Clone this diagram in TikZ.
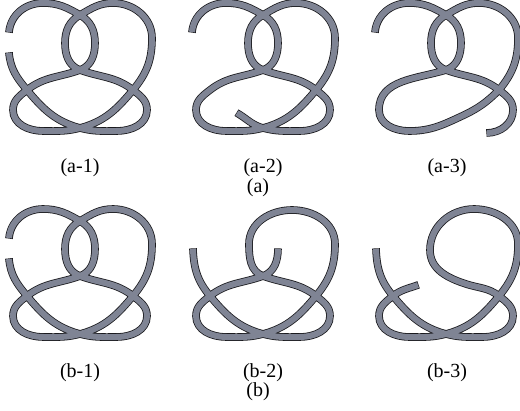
\documentclass[tikz,border=0pt]{standalone}
\usepackage{fontspec}
\setmainfont{Liberation Serif}

\tikzset{
    tube/.style={draw=tubeColour, line width=6pt, preaction={draw=borderColour, line width=7.6pt, shorten >=-0.6pt, shorten <=-0.6pt}},
    caption/.style={font=\fontsize{20}{20}\selectfont, inner sep=0pt}
}

\newcommand{\knotPoints}{
    \coordinate (endTop) at (9,32);
    \coordinate (endLow) at (9,53);
    \coordinate (apexL) at (43,3);
    \coordinate (apexR) at (113,3);
    \coordinate (T) at (80,15);
    \coordinate (lensR) at (95,43);
    \coordinate (lensL) at (65,43);
    \coordinate (B) at (80,70);
    \coordinate (P) at (27,90);
    \coordinate (Q) at (133,90);
    \coordinate (sideR) at (152,38);
    \coordinate (lowL) at (13,110);
    \coordinate (lowR) at (147,110);
    \coordinate (baseL) at (43,131);
    \coordinate (baseR) at (117,131);
    \coordinate (C) at (80,128);
}

\begin{document}
\begin{tikzpicture}[x=1pt, y=-1pt]
    \definecolor{borderColour}{HTML}{1A1A1E}
    \definecolor{tubeColour}{HTML}{7F8494}

    \useasboundingbox (0,0) rectangle (520,411);

    % (a-1) and (b-1)
    \foreach \rowShift in {0,206} {
        \begin{scope}[yshift=-\rowShift pt]
            \knotPoints
            \draw[tube] (endTop) to[out=85,in=180] (apexL) to[out=0,in=150] (T) to[out=-30,in=90] (lensR)
                to[out=-90,in=20] (B) to[out=200,in=38] (P) to[out=218,in=90] (lowL)
                to[out=-90,in=180] (baseL) to[out=0,in=195] (C) to[out=15,in=230] (Q)
                to[out=50,in=-90] (sideR) to[out=90,in=0] (apexR) to[out=180,in=30] (T)
                to[out=210,in=90] (lensL) to[out=-90,in=160] (B) to[out=-20,in=142] (Q)
                to[out=-38,in=90] (lowR) to[out=-90,in=0] (baseR) to[out=180,in=-15] (C)
                to[out=165,in=-50] (P) to[out=130,in=-85] (endLow);
        \end{scope}
    }

    % (a-2)
    \begin{scope}[xshift=183pt]
        \knotPoints
        \coordinate (endIn) at (54,113);
        \draw[tube] (endTop) to[out=85,in=180] (apexL) to[out=0,in=150] (T) to[out=-30,in=90] (lensR)
            to[out=-90,in=20] (B) to[out=200,in=38] (P) to[out=218,in=90] (lowL)
            to[out=-90,in=180] (baseL) to[out=0,in=195] (C) to[out=15,in=230] (Q)
            to[out=50,in=-90] (sideR) to[out=90,in=0] (apexR) to[out=180,in=30] (T)
            to[out=210,in=90] (lensL) to[out=-90,in=160] (B) to[out=-20,in=142] (Q)
            to[out=-38,in=90] (lowR) to[out=-90,in=0] (baseR) to[out=180,in=-15] (C)
            to[out=165,in=-30] (endIn);
    \end{scope}

    % (a-3)
    \begin{scope}[xshift=366pt]
        \knotPoints
        \coordinate (endOut) at (121,133);
        \coordinate (riseMid) at (96,116);
        \draw[tube] (endTop) to[out=85,in=180] (apexL) to[out=0,in=150] (T) to[out=-30,in=90] (lensR)
            to[out=-90,in=20] (B) to[out=197,in=90] (lowL) to[out=-90,in=180] (baseL)
            to[out=0,in=205] (riseMid) to[out=25,in=225] (Q)
            to[out=50,in=-90] (sideR) to[out=90,in=0] (apexR) to[out=180,in=30] (T)
            to[out=210,in=90] (lensL) to[out=-90,in=160] (B) to[out=-20,in=142] (Q)
            to[out=-38,in=90] (lowR) to[out=-90,in=0] (endOut);
    \end{scope}

    % (b-2)
    \begin{scope}[xshift=183pt, yshift=-206pt]
        \knotPoints
        \coordinate (endL) at (10,43);
        \coordinate (endR) at (95,43);
        \coordinate (bend) at (66,38);
        \coordinate (apexM) at (109,4);
        \draw[tube] (endL) to[out=-88,in=130] (P) to[out=-50,in=165] (C) to[out=-15,in=180] (baseR)
            to[out=0,in=-90] (lowR) to[out=90,in=-38] (Q) to[out=142,in=-20] (B)
            to[out=160,in=-90] (bend) to[out=90,in=180] (apexM) to[out=0,in=90] (sideR)
            to[out=-90,in=50] (Q) to[out=230,in=15] (C) to[out=195,in=0] (baseL)
            to[out=180,in=-90] (lowL) to[out=90,in=218] (P) to[out=38,in=200] (B)
            to[out=20,in=-90] (endR);
    \end{scope}

    % (b-3)
    \begin{scope}[xshift=366pt, yshift=-206pt]
        \knotPoints
        \coordinate (endL) at (10,43);
        \coordinate (endM) at (52,79);
        \coordinate (fallMid) at (100,78);
        \coordinate (bend) at (64,44);
        \coordinate (apexM) at (108,3);
        \draw[tube] (endL) to[out=-88,in=130] (P) to[out=-50,in=165] (C) to[out=-15,in=180] (baseR)
            to[out=0,in=-90] (lowR) to[out=90,in=-38] (Q) to[out=142,in=-18] (fallMid)
            to[out=162,in=-90] (bend) to[out=90,in=180] (apexM) to[out=0,in=90] (sideR)
            to[out=-90,in=50] (Q) to[out=230,in=15] (C) to[out=195,in=0] (baseL)
            to[out=180,in=-90] (lowL) to[out=90,in=218] (P) to[out=38,in=200] (endM);
    \end{scope}

    \node[caption] (capA1) at (80,168) {(a-1)};
    \node[caption] (capA2) at (263,168) {(a-2)};
    \node[caption] (capA3) at (447,168) {(a-3)};
    \node[caption] (capA) at (258,188) {(a)};
    \node[caption] (capB1) at (80,373) {(b-1)};
    \node[caption] (capB2) at (263,373) {(b-2)};
    \node[caption] (capB3) at (447,373) {(b-3)};
    \node[caption] (capB) at (258,392) {(b)};
\end{tikzpicture}
\end{document}
